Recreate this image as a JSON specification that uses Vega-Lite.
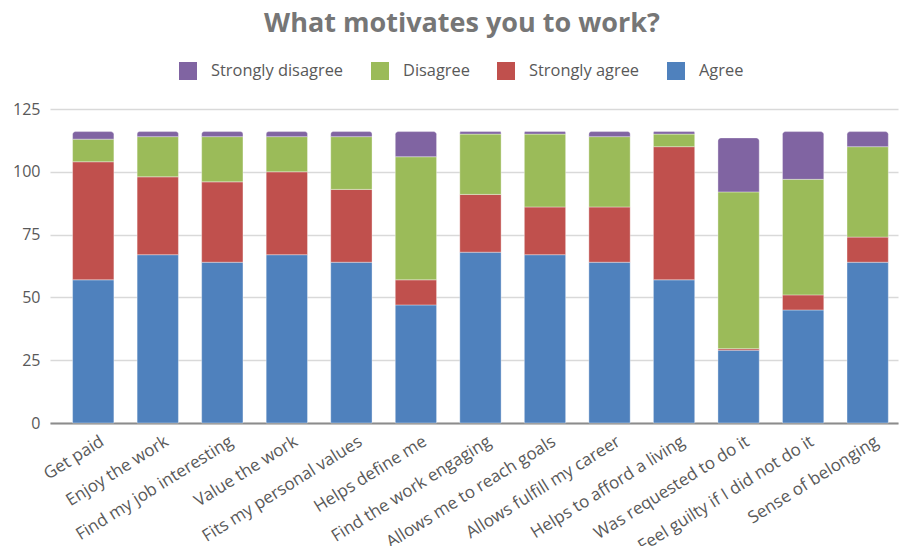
{
  "$schema": "https://vega.github.io/schema/vega-lite/v6.json",
  "width": 848,
  "height": 314,
  "autosize": "none",
  "padding": {"left": 50, "top": 109, "right": 1, "bottom": 123},
  "background": "white",
  "title": {
    "text": "What motivates you to work?",
    "font": "Open Sans",
    "fontSize": 27,
    "fontWeight": "bold",
    "color": "#767676",
    "anchor": "middle",
    "frame": "group",
    "dx": -12,
    "offset": 24
  },
  "config": {
    "view": {"stroke": null},
    "axis": {"labelFont": "Open Sans", "labelColor": "#595959", "labelFontSize": 16}
  },
  "datasets": {
    "survey": [
      {"item": "Get paid", "response": "Agree", "value": 57},
      {"item": "Get paid", "response": "Strongly agree", "value": 47},
      {"item": "Get paid", "response": "Disagree", "value": 9},
      {"item": "Get paid", "response": "Strongly disagree", "value": 3},
      {"item": "Enjoy the work", "response": "Agree", "value": 67},
      {"item": "Enjoy the work", "response": "Strongly agree", "value": 31},
      {"item": "Enjoy the work", "response": "Disagree", "value": 16},
      {"item": "Enjoy the work", "response": "Strongly disagree", "value": 2},
      {"item": "Find my job interesting", "response": "Agree", "value": 64},
      {"item": "Find my job interesting", "response": "Strongly agree", "value": 32},
      {"item": "Find my job interesting", "response": "Disagree", "value": 18},
      {"item": "Find my job interesting", "response": "Strongly disagree", "value": 2},
      {"item": "Value the work", "response": "Agree", "value": 67},
      {"item": "Value the work", "response": "Strongly agree", "value": 33},
      {"item": "Value the work", "response": "Disagree", "value": 14},
      {"item": "Value the work", "response": "Strongly disagree", "value": 2},
      {"item": "Fits my personal values", "response": "Agree", "value": 64},
      {"item": "Fits my personal values", "response": "Strongly agree", "value": 29},
      {"item": "Fits my personal values", "response": "Disagree", "value": 21},
      {"item": "Fits my personal values", "response": "Strongly disagree", "value": 2},
      {"item": "Helps define me", "response": "Agree", "value": 47},
      {"item": "Helps define me", "response": "Strongly agree", "value": 10},
      {"item": "Helps define me", "response": "Disagree", "value": 49},
      {"item": "Helps define me", "response": "Strongly disagree", "value": 10},
      {"item": "Find the work engaging", "response": "Agree", "value": 68},
      {"item": "Find the work engaging", "response": "Strongly agree", "value": 23},
      {"item": "Find the work engaging", "response": "Disagree", "value": 24},
      {"item": "Find the work engaging", "response": "Strongly disagree", "value": 1},
      {"item": "Allows me to reach goals", "response": "Agree", "value": 67},
      {"item": "Allows me to reach goals", "response": "Strongly agree", "value": 19},
      {"item": "Allows me to reach goals", "response": "Disagree", "value": 29},
      {"item": "Allows me to reach goals", "response": "Strongly disagree", "value": 1},
      {"item": "Allows  fulfill my career", "response": "Agree", "value": 64},
      {"item": "Allows  fulfill my career", "response": "Strongly agree", "value": 22},
      {"item": "Allows  fulfill my career", "response": "Disagree", "value": 28},
      {"item": "Allows  fulfill my career", "response": "Strongly disagree", "value": 2},
      {"item": "Helps to afford a living", "response": "Agree", "value": 57},
      {"item": "Helps to afford a living", "response": "Strongly agree", "value": 53},
      {"item": "Helps to afford a living", "response": "Disagree", "value": 5},
      {"item": "Helps to afford a living", "response": "Strongly disagree", "value": 1},
      {"item": "Was requested to do it", "response": "Agree", "value": 29},
      {"item": "Was requested to do it", "response": "Strongly agree", "value": 0.6},
      {"item": "Was requested to do it", "response": "Disagree", "value": 62.4},
      {"item": "Was requested to do it", "response": "Strongly disagree", "value": 21.5},
      {"item": "Feel guilty if I did not do it", "response": "Agree", "value": 45},
      {"item": "Feel guilty if I did not do it", "response": "Strongly agree", "value": 6},
      {"item": "Feel guilty if I did not do it", "response": "Disagree", "value": 46},
      {"item": "Feel guilty if I did not do it", "response": "Strongly disagree", "value": 19},
      {"item": "Sense of belonging", "response": "Agree", "value": 64},
      {"item": "Sense of belonging", "response": "Strongly agree", "value": 10},
      {"item": "Sense of belonging", "response": "Disagree", "value": 36},
      {"item": "Sense of belonging", "response": "Strongly disagree", "value": 6}
    ]
  },
  "data": {"name": "survey"},
  "transform": [
    {"calculate": "indexof(['Agree','Strongly agree','Disagree','Strongly disagree'], datum.response)", "as": "ord"},
    {"stack": "value", "groupby": ["item"], "sort": [{"field": "ord", "order": "ascending"}], "as": ["v0", "v1"]}
  ],
  "encoding": {
    "x": {
      "field": "item",
      "type": "nominal",
      "sort": null,
      "scale": {"paddingInner": 0.36, "paddingOuter": 0.25, "align": 0.7},
      "axis": {
        "title": null,
        "labelAngle": -32,
        "labelAlign": "right",
        "labelBaseline": "top",
        "labelPadding": 10,
        "labelOffset": 5,
        "labelFontSize": 17,
        "ticks": false,
        "domainColor": "#8c8c8c",
        "domainWidth": 2,
        "labelLimit": 300
      }
    },
    "y": {
      "field": "v1",
      "type": "quantitative",
      "scale": {"domain": [0, 125], "nice": false},
      "axis": {
        "title": null,
        "values": [0, 25, 50, 75, 100, 125],
        "domain": false,
        "ticks": false,
        "labelPadding": 10,
        "gridColor": "#d9d9d9",
        "gridWidth": 1.3
      }
    },
    "y2": {"field": "v0"},
    "color": {
      "field": "response",
      "type": "nominal",
      "scale": {
        "domain": ["Strongly disagree", "Disagree", "Strongly agree", "Agree"],
        "range": ["#8064A2", "#9BBB59", "#C0504D", "#4F81BD"]
      },
      "legend": {
        "title": null,
        "orient": "none",
        "direction": "horizontal",
        "legendX": 129,
        "legendY": -47,
        "symbolType": "square",
        "symbolSize": 324,
        "symbolStrokeWidth": 0,
        "symbolOpacity": 1,
        "labelFont": "Open Sans",
        "labelFontSize": 16.4,
        "labelColor": "#595959",
        "labelOffset": 14,
        "columnPadding": 27
      }
    }
  },
  "layer": [
    {
      "transform": [{"filter": "datum.response != 'Strongly disagree'"}],
      "mark": {"type": "bar", "stroke": "#ffffff", "strokeOpacity": 0.45, "strokeWidth": 0.8}
    },
    {
      "transform": [{"filter": "datum.response == 'Strongly disagree'"}],
      "mark": {"type": "bar", "stroke": "#ffffff", "strokeOpacity": 0.45, "strokeWidth": 0.8, "cornerRadiusTopLeft": 3, "cornerRadiusTopRight": 3}
    }
  ]
}
